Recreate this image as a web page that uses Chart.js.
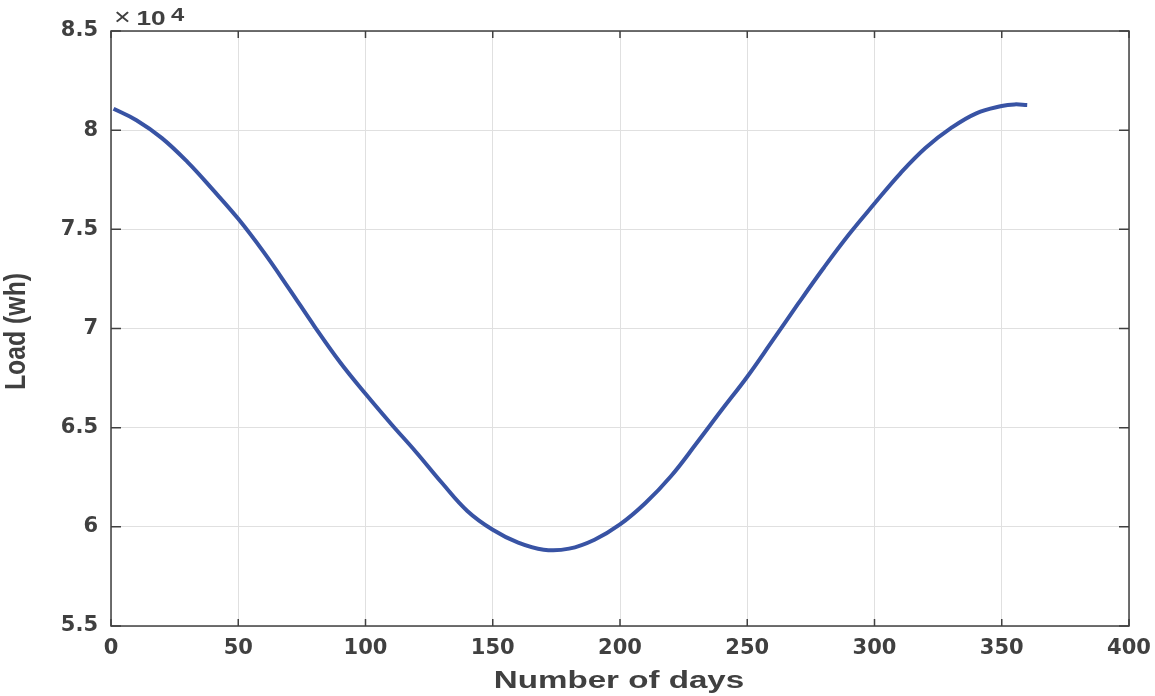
<!DOCTYPE html>
<html>
<head>
<meta charset="utf-8">
<script src="https://cdn.jsdelivr.net/npm/chart.js@4"></script>
<style>
  html, body { margin: 0; padding: 0; background: #fff; }
  #wrap { width: 1155px; height: 696px; }
</style>
</head>
<body>
<div id="wrap"><canvas id="myChart" width="1155" height="696"></canvas></div>
<script>
// days
const days = [1, 10, 20, 30, 40, 50, 60, 70, 80, 90, 100, 110, 120, 130, 140, 150, 160, 170, 180,
  190, 200, 210, 220, 230, 240, 250, 260, 270, 280, 290, 300, 310, 320, 330, 340, 350, 355, 360];
// load in wh (estimated)
const load = [81080, 80500, 79600, 78400, 77000, 75530, 73850, 72000, 70100, 68300, 66710, 65200, 63750,
  62220, 60800, 59850, 59200, 58850, 58900, 59350, 60120, 61200, 62550, 64200, 65900, 67570,
  69400, 71250, 73050, 74750, 76300, 77800, 79100, 80100, 80850, 81220, 81300, 81270];
const xTicks = [0, 50, 100, 150, 200, 250, 300, 350, 400];
const yTicks = [55000, 60000, 65000, 70000, 75000, 80000, 85000];
const xTitle = 'Number of days';
const yTitle = 'Load (wh)';

const axisColor = '#404040';
const tickFont = { family: 'DejaVu Sans, Verdana, sans-serif', size: 21, weight: 'bold' };

// box round the plot, inward tick marks, axis titles and the x10^4 label
const matlabBox = {
  id: 'matlabBox',
  afterDraw(chart) {
    const ctx = chart.ctx;
    const a = chart.chartArea;
    const xs = chart.scales.x, ys = chart.scales.y;
    ctx.save();
    ctx.strokeStyle = axisColor;
    ctx.lineWidth = 1.5;
    ctx.strokeRect(a.left, a.top, a.right - a.left, a.bottom - a.top);
    ctx.beginPath();
    xTicks.forEach(v => {
      const px = xs.getPixelForValue(v);
      ctx.moveTo(px, a.bottom); ctx.lineTo(px, a.bottom - 7);
      ctx.moveTo(px, a.top); ctx.lineTo(px, a.top + 7);
    });
    yTicks.forEach(v => {
      const py = ys.getPixelForValue(v);
      ctx.moveTo(a.left, py); ctx.lineTo(a.left + 10, py);
      ctx.moveTo(a.right, py); ctx.lineTo(a.right - 10, py);
    });
    ctx.stroke();

    ctx.fillStyle = axisColor;
    ctx.textBaseline = 'alphabetic';

    // x title, stretched wide like the original
    ctx.save();
    ctx.translate((a.left + a.right) / 2 - 1, 688);
    ctx.scale(1.41, 1);
    ctx.textAlign = 'center';
    ctx.font = 'bold 23.5px "Liberation Sans", Arial, sans-serif';
    ctx.fillText(xTitle, 0, 0);
    ctx.restore();

    // y title, rotated
    ctx.save();
    ctx.translate(25, (a.top + a.bottom) / 2 + 3);
    ctx.rotate(-Math.PI / 2);
    ctx.scale(1, 1.19);
    ctx.textAlign = 'center';
    ctx.font = 'bold 24.8px "Liberation Sans", Arial, sans-serif';
    ctx.fillText(yTitle, 0, 0);
    ctx.restore();

    // exponent label
    ctx.save();
    ctx.translate(a.left + 3, 25);
    ctx.scale(1.25, 1);
    ctx.textAlign = 'left';
    ctx.font = '23px "Liberation Sans", Arial, sans-serif';
    ctx.fillText('\u00d7', 0, 0);
    ctx.font = 'bold 21px "Liberation Sans", Arial, sans-serif';
    ctx.fillText('10', 18, 0);
    ctx.font = 'bold 19px "Liberation Sans", Arial, sans-serif';
    ctx.fillText('4', 45.5, -4);
    ctx.restore();

    ctx.restore();
  }
};

const lineChart = new Chart(document.getElementById('myChart').getContext('2d'), {
  type: 'line',
  data: {
    datasets: [{
      label: 'Load',
      data: days.map((d, i) => ({ x: d, y: load[i] })),
      borderColor: '#3853a4',
      borderWidth: 4,
      pointRadius: 0,
      fill: false,
      tension: 0.4
    }]
  },
  options: {
    responsive: false,
    animation: false,
    layout: { padding: { left: 0, right: 26, top: 31, bottom: 0 } },
    plugins: { legend: { display: false }, tooltip: { enabled: false } },
    scales: {
      x: {
        type: 'linear',
        min: 0,
        max: 400,
        afterFit: s => { s.height = 70; s.paddingLeft = 0; s.paddingRight = 0; },
        afterBuildTicks: s => { s.ticks = xTicks.map(v => ({ value: v })); },
        ticks: { color: axisColor, font: tickFont, padding: 10, maxRotation: 0 },
        grid: { color: '#e0e0e0', lineWidth: 1, drawTicks: false },
        border: { display: false }
      },
      y: {
        min: 55000,
        max: 85000,
        afterFit: s => { s.width = 111; s.paddingTop = 0; s.paddingBottom = 0; },
        afterBuildTicks: s => { s.ticks = yTicks.map(v => ({ value: v })); },
        ticks: {
          color: axisColor,
          font: tickFont,
          padding: 13,
          callback: v => String(v / 10000)
        },
        grid: { color: '#e0e0e0', lineWidth: 1, drawTicks: false },
        border: { display: false }
      }
    }
  },
  plugins: [matlabBox]
});
</script>
</body>
</html>
